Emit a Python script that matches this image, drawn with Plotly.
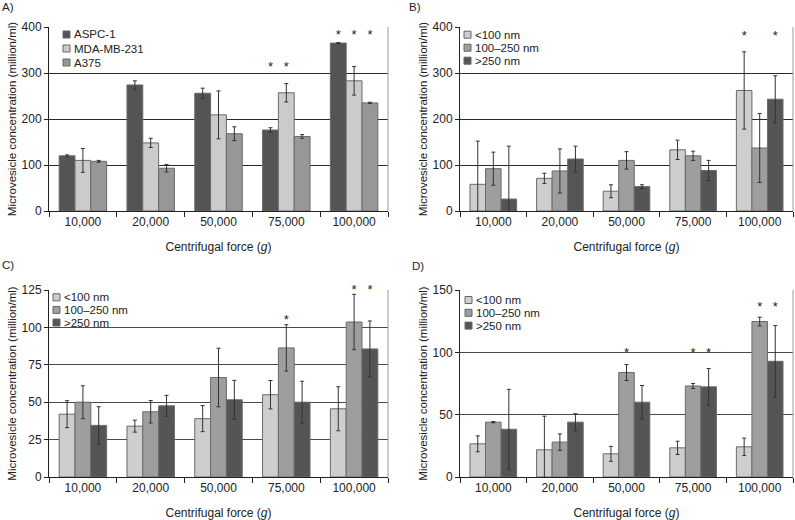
import plotly.graph_objects as go

W, H = 795, 520

categories = ["10,000", "20,000", "50,000", "75,000", "100,000"]

# ---- Panel A: cell lines ----
a_names = ["ASPC-1", "MDA-MB-231", "A375"]
a_colors = ["#545454", "#cbcbcb", "#979797"]
a_aspc = [120, 274, 256, 176, 365]
a_aspc_err = [2, 9, 11, 5, 1]
a_mda = [110, 148, 209, 257, 283]
a_mda_err = [26, 10, 52, 20, 31]
a_a375 = [108, 93, 168, 162, 235]
a_a375_err = [2, 8, 15, 4, 1.5]
a_stars = [[None, None, None, 312, 381],
           [None, None, None, 312, 381],
           [None, None, None, None, 381]]

# ---- Size classes (panels B, C, D) ----
size_names = ["<100 nm", "100–250 nm", ">250 nm"]
size_colors = ["#cecece", "#9e9e9e", "#555555"]

# Panel B
b_small = [58, 71, 43, 133, 262]
b_small_err = [94, 11, 14, 21, 84]
b_mid = [92, 87, 110, 120, 137]
b_mid_err = [36, 48, 19, 10, 75]
b_large = [26, 113, 53, 88, 243]
b_large_err = [115, 28, 4, 22, 51]
b_stars = [[None, None, None, None, 379],
           [None, None, None, None, None],
           [None, None, None, None, 379]]

# Panel C
c_small = [42, 34, 39, 55, 45.6]
c_small_err = [9, 4, 8.7, 9.5, 14.7]
c_mid = [50, 43.6, 66.5, 86.3, 103.6]
c_mid_err = [11, 7.5, 19.6, 15.5, 18.5]
c_large = [34.5, 47.6, 51.6, 50, 85.6]
c_large_err = [12.5, 7, 13, 14, 18.7]
c_stars = [[None, None, None, None, None],
           [None, None, None, 104.5, 124.8],
           [None, None, None, None, 124.8]]

# Panel D
d_small = [26.6, 21.8, 18.6, 23.4, 24.2]
d_small_err = [6.4, 27, 6, 5.3, 7]
d_mid = [44, 28, 83.8, 73, 124.7]
d_mid_err = [0.5, 6.6, 6.4, 2, 3.5]
d_large = [38.3, 44, 60, 72.3, 92.8]
d_large_err = [32, 6.8, 13.4, 14.7, 28.7]
d_stars = [[None, None, None, None, None],
           [None, None, 99, 99, 136],
           [None, None, None, 99, 136]]

panels = [
    dict(label="A)", names=a_names, colors=a_colors,
         values=[a_aspc, a_mda, a_a375], errors=[a_aspc_err, a_mda_err, a_a375_err],
         stars=a_stars, yrange=[0, 400], dtick=100,
         xdom=(49, 388), ydom=(27, 211), grid="#2a2a2a",
         lab=(0, 7), leg=(63, 34.5, 14)),
    dict(label="B)", names=size_names, colors=size_colors,
         values=[b_small, b_mid, b_large], errors=[b_small_err, b_mid_err, b_large_err],
         stars=b_stars, yrange=[0, 400], dtick=100,
         xdom=(460, 793), ydom=(27, 211), grid="#2a2a2a",
         lab=(407, 7), leg=(464, 34.7, 13)),
    dict(label="C)", names=size_names, colors=size_colors,
         values=[c_small, c_mid, c_large], errors=[c_small_err, c_mid_err, c_large_err],
         stars=c_stars, yrange=[0, 125], dtick=25,
         xdom=(49, 388), ydom=(290, 477), grid="#4a4a4a",
         lab=(0, 265), leg=(53, 297.3, 12.6)),
    dict(label="D)", names=size_names, colors=size_colors,
         values=[d_small, d_mid, d_large], errors=[d_small_err, d_mid_err, d_large_err],
         stars=d_stars, yrange=[0, 150], dtick=50,
         xdom=(460, 793), ydom=(290, 477), grid="#4a4a4a",
         lab=(410, 266), leg=(465, 300, 12.8)),
]

FONT = "Liberation Sans, Arial, sans-serif"
TXT = "#222222"

fig = go.Figure()
shapes = []
annotations = []
layout_axes = {}


def esc(s):
    return s.replace("<", "&lt;").replace(">", "&gt;")


for k, p in enumerate(panels):
    n = "" if k == 0 else str(k + 1)
    xa, ya = "x" + n, "y" + n
    for j in range(3):
        fig.add_trace(go.Bar(
            x=categories, y=p["values"][j], name=p["names"][j],
            marker=dict(color=p["colors"][j], line=dict(color="#6a6a6a", width=1)),
            error_y=dict(type="data", array=p["errors"][j], color="#333333",
                         thickness=1, width=2),
            xaxis=xa, yaxis=ya, showlegend=False, offsetgroup=str(j),
        ))
    for j in range(3):
        fig.add_trace(go.Scatter(
            x=categories, y=p["stars"][j], mode="text",
            text=["*" if v is not None else "" for v in p["stars"][j]],
            textposition="middle center",
            textfont=dict(size=13, color=TXT, family=FONT),
            xaxis=xa, yaxis=ya, showlegend=False, cliponaxis=False,
            offsetgroup=str(j), hoverinfo="skip",
        ))
    x0, x1 = p["xdom"]
    y0, y1 = p["ydom"]
    layout_axes["xaxis" + n] = dict(
        domain=[x0 / W, x1 / W], anchor=ya, type="category",
        showline=True, linecolor="#222", linewidth=1,
        ticks="outside", tickson="boundaries", ticklen=5, tickcolor="#222",
        showgrid=False, tickfont=dict(size=12, color=TXT, family=FONT),
        title=dict(text="Centrifugal force (<i>g</i>)", font=dict(size=12, color=TXT, family=FONT),
                   standoff=14),
        automargin=False,
    )
    layout_axes["yaxis" + n] = dict(
        domain=[1 - y1 / H, 1 - y0 / H], anchor=xa, range=p["yrange"], dtick=p["dtick"],
        showline=True, linecolor="#222", linewidth=1,
        ticks="outside", ticklen=4, tickcolor="#222",
        showgrid=True, gridcolor=p["grid"], gridwidth=1, zeroline=False,
        tickfont=dict(size=12, color=TXT, family=FONT),
        title=dict(text="Microvesicle concentration (million/ml)",
                   font=dict(size=11.5, color=TXT, family=FONT), standoff=2),
        automargin=False,
    )
    # right border of plot area
    shapes.append(dict(type="line", xref=xa + " domain", yref=ya + " domain",
                       x0=1, x1=1, y0=0, y1=1, line=dict(color="#9a9a9a", width=1)))
    # panel label
    annotations.append(dict(text=p["label"], xref="paper", yref="paper",
                            x=p["lab"][0] / W, y=1 - p["lab"][1] / H,
                            xanchor="left", yanchor="middle", showarrow=False,
                            font=dict(size=11.5, color=TXT, family=FONT)))
    # legend
    lx, ly, dy = p["leg"]
    for j in range(3):
        yc = ly + j * dy
        shapes.append(dict(type="rect", xref="paper", yref="paper",
                           x0=lx / W, x1=(lx + 7) / W,
                           y0=1 - (yc + 3.5) / H, y1=1 - (yc - 3.5) / H,
                           fillcolor=p["colors"][j], line=dict(color="#666", width=1)))
        annotations.append(dict(text=esc(p["names"][j]), xref="paper", yref="paper",
                                x=(lx + 8.5) / W, y=1 - yc / H,
                                xanchor="left", yanchor="middle", showarrow=False,
                                font=dict(size=11.5, color=TXT, family=FONT)))

fig.update_layout(
    width=W, height=H,
    margin=dict(l=0, r=0, t=0, b=0),
    paper_bgcolor="white", plot_bgcolor="white",
    barmode="group", bargap=0.3, bargroupgap=0,
    scattermode="group", scattergap=0.3,
    font=dict(family=FONT, color=TXT, size=12),
    shapes=shapes, annotations=annotations,
    **layout_axes,
)

fig.write_html("out.html", config={"displayModeBar": False},
               post_script="document.body.style.margin='0';document.body.style.overflow='hidden';")
